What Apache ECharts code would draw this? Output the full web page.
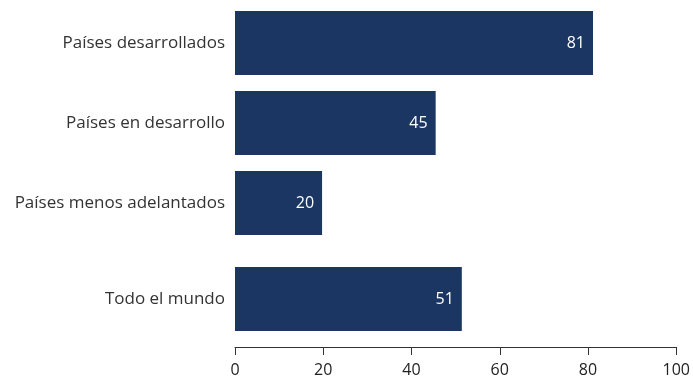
<!DOCTYPE html>
<html><head><meta charset="utf-8">
<script src="https://cdn.jsdelivr.net/npm/echarts@6/dist/echarts.min.js"></script>
<style>html,body{margin:0;padding:0;background:#fff}#c{width:693px;height:378px}</style>
</head><body><div id="c"></div>
<script>
const groupCategories = ['Países desarrollados', 'Países en desarrollo', 'Países menos adelantados'];
const groupValues = [81.0, 45.4, 19.7];
const worldCategories = ['Todo el mundo'];
const worldValues = [51.4];
const xTicks = [0, 20, 40, 60, 80, 100];

const FONT = 'Open Sans';
const BAR = '#1c3663';
const chart = echarts.init(document.getElementById('c'));
const labelCfg = {show: true, position: 'insideRight', distance: 8, color: '#fff', fontSize: 16, fontFamily: FONT,
  formatter: p => Math.round(p.value)};
const yCommon = {
  type: 'category', inverse: true,
  axisLine: {show: false}, axisTick: {show: false},
  axisLabel: {color: '#333', fontSize: 17, fontFamily: FONT, margin: 10}
};
chart.setOption({
  animation: false,
  grid: [
    {left: 235, right: 16, top: 3, height: 240},
    {left: 235, right: 16, top: 259, height: 80}
  ],
  xAxis: [
    {gridIndex: 0, type: 'value', min: 0, max: 100, interval: 20, show: false},
    {gridIndex: 1, type: 'value', min: xTicks[0], max: xTicks[xTicks.length - 1], interval: 20, offset: 8,
     splitLine: {show: false},
     axisLine: {show: true, lineStyle: {color: '#333', width: 1}},
     axisTick: {show: true, length: 8, lineStyle: {color: '#333'}},
     axisLabel: {color: '#222', fontSize: 16, fontFamily: FONT, margin: 15}}
  ],
  yAxis: [
    Object.assign({gridIndex: 0, data: groupCategories}, yCommon),
    Object.assign({gridIndex: 1, data: worldCategories}, yCommon)
  ],
  series: [
    {type: 'bar', xAxisIndex: 0, yAxisIndex: 0, data: groupValues, barWidth: 64, itemStyle: {color: BAR}, label: labelCfg},
    {type: 'bar', xAxisIndex: 1, yAxisIndex: 1, data: worldValues, barWidth: 64, itemStyle: {color: BAR}, label: labelCfg}
  ]
});
</script></body></html>
